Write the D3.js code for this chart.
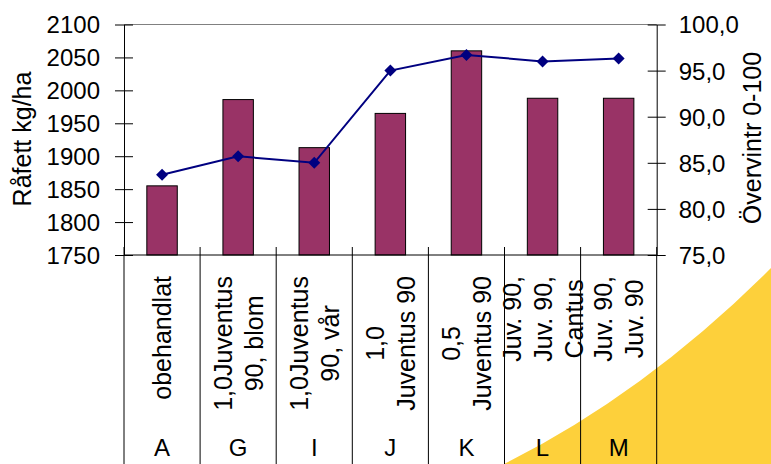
<!DOCTYPE html>
<html>
<head>
<meta charset="utf-8">
<script src="https://cdn.jsdelivr.net/npm/d3@7"></script>
<style>
  body { margin: 0; background: white; }
  text { font-family: "Liberation Sans", Arial, sans-serif; fill: black; }
</style>
</head>
<body>
<div id="wykres"></div>
<script>
// data
var kategorier = ["A", "G", "I", "J", "K", "L", "M"];
var behandling = [
  ["obehandlat"],
  ["1,0Juventus", "90, blom"],
  ["1,0Juventus", "90, vår"],
  ["1,0", "Juventus 90"],
  ["0,5", "Juventus 90"],
  ["Juv. 90,", "Juv. 90,", "Cantus"],
  ["Juv. 90,", "Juv. 90"]
];
var rafett = [1855, 1986, 1913, 1965, 2060, 1988, 1988];
var overvintr = [83.7, 85.7, 85.0, 95.0, 96.7, 96.0, 96.3];

var leftTicks = [1750, 1800, 1850, 1900, 1950, 2000, 2050, 2100];
var rightTicks = [75, 80, 85, 90, 95, 100];

var W = 771, H = 464;
var plot = { left: 124, right: 656.7, top: 24.5, bottom: 255 };

var svg = d3.select("#wykres")
  .append("svg")
  .attr("width", W)
  .attr("height", H)
  .style("background", "white");

// yellow swoosh in the corner
svg.append("path")
  .attr("d", "M504," + H + " Q646,393 " + W + ",268 L" + W + "," + H + " Z")
  .attr("fill", "#fdd03b");

var xscale = d3.scaleBand()
  .domain(kategorier)
  .range([plot.left, plot.right])
  .paddingInner(0)
  .paddingOuter(0);

var yscale = d3.scaleLinear()
  .domain([1750, 2100])
  .range([plot.bottom, plot.top]);

var yscale2 = d3.scaleLinear()
  .domain([75, 100])
  .range([plot.bottom, plot.top]);

// top border
svg.append("line")
  .attr("x1", plot.left).attr("x2", plot.right)
  .attr("y1", plot.top).attr("y2", plot.top)
  .attr("stroke", "#808080");

// bars
var barW = xscale.bandwidth() * 0.4;
svg.append("g")
  .selectAll("rect")
  .data(rafett)
  .enter().append("rect")
  .attr("x", (d, i) => xscale(kategorier[i]) + (xscale.bandwidth() - barW) / 2)
  .attr("y", d => yscale(d))
  .attr("width", barW)
  .attr("height", d => yscale(1750) - yscale(d))
  .attr("fill", "#993366")
  .attr("stroke", "black")
  .attr("stroke-width", 1);

// table lines under x axis
var granser = kategorier.map(k => xscale(k)).concat([plot.right]);
svg.append("g")
  .selectAll("line")
  .data(granser)
  .enter().append("line")
  .attr("x1", d => d).attr("x2", d => d)
  .attr("y1", plot.bottom - 8).attr("y2", H)
  .attr("stroke", "black");

// x axis line
svg.append("line")
  .attr("x1", plot.left).attr("x2", plot.right)
  .attr("y1", plot.bottom).attr("y2", plot.bottom)
  .attr("stroke", "black");

// left axis
var yAxis = svg.append("g")
  .attr("transform", "translate(" + plot.left + ",0)")
  .call(d3.axisLeft(yscale).tickValues(leftTicks).tickFormat(d3.format("d"))
    .tickSize(9).tickPadding(15).tickSizeOuter(0));
yAxis.selectAll(".tick line").attr("x1", 9);
yAxis.selectAll("text").style("font-size", "24px").attr("dy", "0.35em");
yAxis.select(".domain").attr("stroke", "black");

// right axis
var commaFmt = d => d3.format(".1f")(d).replace(".", ",");
var yAxis2 = svg.append("g")
  .attr("transform", "translate(" + plot.right + ",0)")
  .call(d3.axisRight(yscale2).tickValues(rightTicks).tickFormat(commaFmt)
    .tickSize(9).tickPadding(13).tickSizeOuter(0));
yAxis2.selectAll(".tick line").attr("x1", -9);
yAxis2.selectAll("text").style("font-size", "24px").attr("dy", "0.35em");

// line series
svg.append("path")
  .datum(overvintr)
  .attr("fill", "none")
  .attr("stroke", "#000080")
  .attr("stroke-width", 2)
  .attr("d", d3.line()
    .x((d, i) => xscale(kategorier[i]) + xscale.bandwidth() / 2)
    .y(d => yscale2(d)));

svg.append("g")
  .selectAll("path")
  .data(overvintr)
  .enter().append("path")
  .attr("transform", (d, i) => "translate(" + (xscale(kategorier[i]) + xscale.bandwidth() / 2) + "," + yscale2(d) + ")")
  .attr("d", "M0,-6L6,0L0,6L-6,0Z")
  .attr("fill", "#000080");

// rotated treatment labels
var lineGap = 31;
behandling.forEach(function (rader, i) {
  var cx = xscale(kategorier[i]) + xscale.bandwidth() / 2;
  var g = svg.append("g");
  var texts = rader.map(function (r) {
    return g.append("text")
      .style("font-size", "25px")
      .attr("text-anchor", "middle")
      .attr("dominant-baseline", "central")
      .text(r);
  });
  var maxLen = d3.max(texts, t => t.node().getComputedTextLength());
  var cy = 276 + maxLen / 2;
  texts.forEach(function (t, j) {
    var x = cx + (j - (rader.length - 1) / 2) * lineGap;
    t.attr("transform", "translate(" + x + "," + cy + ") rotate(-90)");
  });
});

// category letters
svg.append("g")
  .selectAll("text")
  .data(kategorier)
  .enter().append("text")
  .attr("x", d => xscale(d) + xscale.bandwidth() / 2)
  .attr("y", 456)
  .attr("text-anchor", "middle")
  .style("font-size", "24px")
  .text(d => d);

// axis titles
svg.append("text")
  .attr("transform", "translate(22,139) rotate(-90)")
  .attr("text-anchor", "middle")
  .attr("dominant-baseline", "central")
  .style("font-size", "25px")
  .text("Råfett kg/ha");

svg.append("text")
  .attr("transform", "translate(752,138) rotate(-90)")
  .attr("text-anchor", "middle")
  .attr("dominant-baseline", "central")
  .style("font-size", "25px")
  .text("Övervintr 0-100");
</script>
</body>
</html>
